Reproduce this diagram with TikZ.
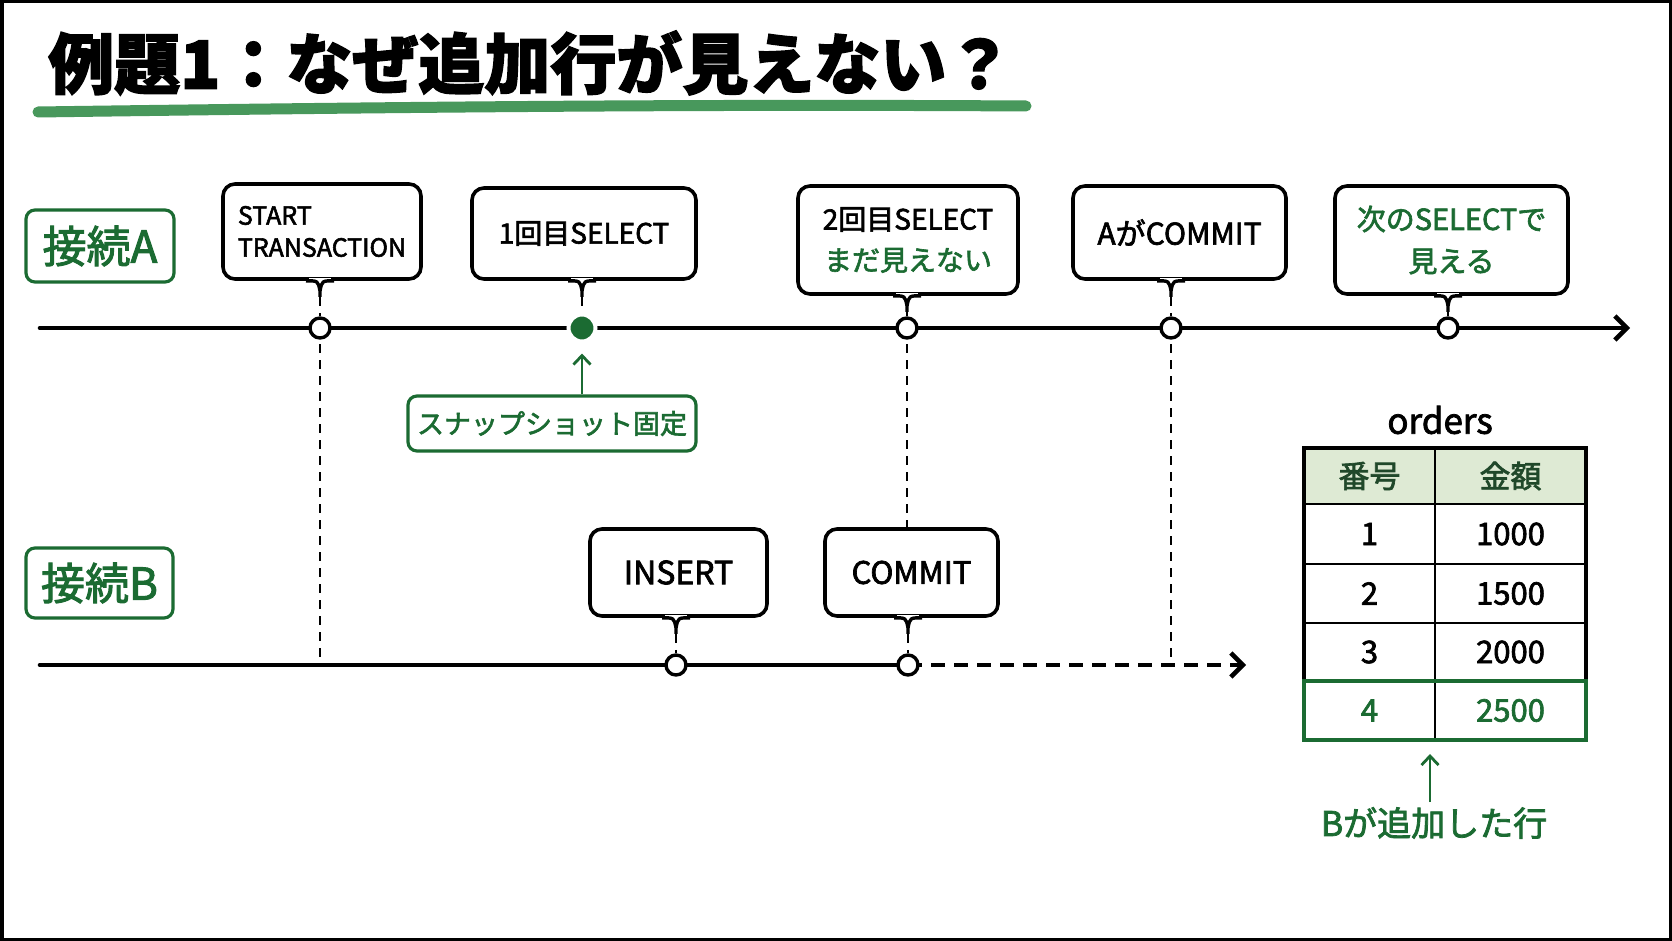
\documentclass[tikz,border=0pt]{standalone}
\usepackage{fontspec}
\setmainfont[FakeBold=2.2]{Noto Sans CJK JP}
\usetikzlibrary{arrows.meta,calc}
\definecolor{grn}{RGB}{27,107,50}
\definecolor{ulgreen}{RGB}{72,152,92}
\definecolor{hdfill}{RGB}{222,234,212}
\definecolor{hdtext}{RGB}{32,72,42}

\tikzset{
  evbox/.style={draw, line width=3.6pt, rounded corners=12pt, fill=white, inner sep=0pt, align=center, font=\fontsize{28}{40}\selectfont},
  connbox/.style={draw=grn, text=grn, line width=3.2pt, rounded corners=9pt, inner sep=0pt, font=\fontsize{44}{50}\selectfont},
  evpt/.style={circle, draw, line width=3.4pt, fill=white, inner sep=0pt, minimum size=20pt},
  vdash/.style={line width=1.7pt, dash pattern=on 9pt off 7pt},
  tline/.style={line width=4.6pt, line cap=round},
  garrow/.style={grn, line width=2.8pt, -{Straight Barb[length=9pt,width=17pt]}},
  cell/.style={inner sep=0pt, font=\fontsize{31}{36}\selectfont}
}

% little pointer under a callout box, then the dashed drop to its event
\newcommand{\calltail}[2]{%
  \coordinate (#1-t) at (#1.south -| #2);
  \fill[white] ($(#1-t)+(-11,-2.5)$) rectangle ($(#1-t)+(11,2.5)$);
  \draw[line width=3.4pt] ($(#1-t)+(-14,0)$) .. controls ($(#1-t)+(-2,0)$) .. ($(#1-t)+(0,10)$) -- ($(#1-t)+(0,16)$);
  \draw[line width=3.4pt] ($(#1-t)+(14,0)$) .. controls ($(#1-t)+(2,0)$) .. ($(#1-t)+(0,10)$);
  \coordinate (#1-s) at ($(#1-t)+(0,16)$);
  \draw[vdash] (#1-s) -- (#2);
}

\begin{document}
\begin{tikzpicture}[x=1pt,y=-1pt]
\useasboundingbox (0,0) rectangle (1672,941);
\fill[white] (0,0) rectangle (1672,941);
\draw[line width=7pt] (0,0) rectangle (1672,941);

\node[anchor=west, inner sep=0pt, font=\fontsize{66}{72}\selectfont\bfseries] (title) at (48,63) {例題1：なぜ追加行が見えない？};
\draw[ulgreen, line width=11pt, line cap=round] (38,112) .. controls (400,107) and (700,104) .. (1026,106);

\coordinate (a0) at (40,328);
\coordinate (a1) at (1630,328);
\coordinate (b0) at (40,665);
\coordinate (b1) at (1246,665);

\draw[vdash] (320,328) -- (320,665);
\draw[vdash] (907,328) -- (907,530);
\draw[vdash] (1171,328) -- (1171,665);

\draw[tline, -{Straight Barb[length=12pt,width=24pt]}] (a0) -- (a1);

\node[connbox, minimum width=148pt, minimum height=72pt] (conA) at (100,246) {接続A};
\node[connbox, minimum width=147pt, minimum height=70pt] (conB) at (99.5,583) {接続B};

\node[evpt] (e1) at (320,328) {};
\node[circle, fill=grn, draw=white, line width=4pt, inner sep=0pt, minimum size=27pt] (e2) at (582,328) {};
\node[evpt] (e3) at (907,328) {};
\node[evpt] (e4) at (1171,328) {};
\node[evpt] (e5) at (1448,328) {};

\node[evbox, align=left, font=\fontsize{25}{32}\selectfont, minimum width=198pt, minimum height=95pt] (s1) at (322,231.5) {START\\TRANSACTION};
\node[evbox, minimum width=224pt, minimum height=91pt] (s2) at (584,233.5) {1回目SELECT};
\node[evbox, font=\fontsize{28}{41}\selectfont, minimum width=220pt, minimum height=108pt] (s3) at (908,240) {2回目SELECT\\\textcolor{grn}{まだ見えない}};
\node[evbox, font=\fontsize{30}{35}\selectfont, minimum width=213pt, minimum height=93pt] (s4) at (1179.5,232.5) {AがCOMMIT};
\node[evbox, text=grn, font=\fontsize{29}{42}\selectfont, minimum width=233pt, minimum height=108pt] (s5) at (1451.5,240) {次のSELECTで\\見える};
\calltail{s1}{e1}
\calltail{s2}{e2}
\calltail{s3}{e3}
\calltail{s4}{e4}
\calltail{s5}{e5}

\node[connbox, font=\fontsize{27}{32}\selectfont, minimum width=288pt, minimum height=55pt] (snap) at (552,423.5) {スナップショット固定};
\draw[garrow] (snap.north -| e2) -- ([yshift=-10pt]e2.south);

\draw[tline] (b0) -- (908,665);
\draw[line width=4.6pt, dash pattern=on 14pt off 9pt, -{Straight Barb[length=12pt,width=24pt]}] (908,665) -- (b1);

\node[evpt] (f1) at (676,665) {};
\node[evpt] (f2) at (908,665) {};
\node[evbox, font=\fontsize{32}{37}\selectfont, minimum width=177pt, minimum height=87pt] (t1) at (678.5,572.5) {INSERT};
\node[evbox, font=\fontsize{31}{36}\selectfont, minimum width=173pt, minimum height=87pt] (t2) at (911.5,572.5) {COMMIT};
\calltail{t1}{f1}
\calltail{t2}{f2}

\node[inner sep=0pt, font=\fontsize{35}{40}\selectfont] (orders) at (1440,420) {orders};
\fill[hdfill] (1304,448) rectangle (1586,504);
\foreach \y in {504,564,623,681}
  \draw[line width=2.8pt] (1304,\y) -- (1586,\y);
\draw[line width=2.8pt] (1435,448) -- (1435,740);
\draw[line width=3.4pt] (1304,448) rectangle (1586,740);
\draw[grn, line width=3.8pt] (1304,681) rectangle (1586,740);
\node[cell, text=hdtext] (h1) at (1369.5,476) {番号};
\node[cell, text=hdtext] (h2) at (1510.5,476) {金額};
\foreach \n/\v/\y in {1/1000/534,2/1500/593.5,3/2000/652}{
  \node[cell] (n\n) at (1369.5,\y) {\n};
  \node[cell] (v\n) at (1510.5,\y) {\v};
}
\node[cell, text=grn] (n4) at (1369.5,710.5) {4};
\node[cell, text=grn] (v4) at (1510.5,710.5) {2500};

\node[inner sep=0pt, text=grn, font=\fontsize{34}{40}\selectfont] (added) at (1434,823) {Bが追加した行};
\coordinate (tb) at (1430,754);
\draw[garrow] ([yshift=5pt]added.north -| tb) -- (tb);
\end{tikzpicture}
\end{document}
